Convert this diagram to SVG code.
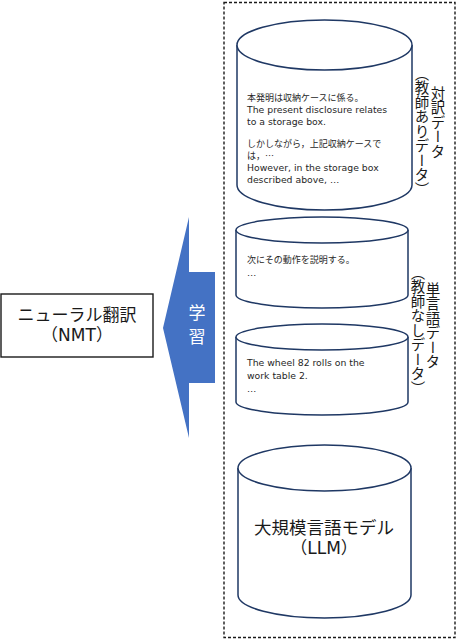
<svg xmlns="http://www.w3.org/2000/svg" width="458" height="640" viewBox="0 0 458 640">
<style>
.cyl{fill:#fff;stroke:#1f3864;stroke-width:1.5}
.jp{font-family:"Noto Sans CJK JP","DejaVu Sans",sans-serif;font-size:9px;fill:#262626}
.en{font-family:"DejaVu Sans","Noto Sans CJK JP",sans-serif;font-size:9.3px;fill:#262626}
.big{font-family:"DejaVu Sans","Noto Sans CJK JP",sans-serif;font-size:17px;fill:#1a1a1a;text-anchor:middle}
.vt{font-family:"Noto Sans CJK JP",sans-serif;font-size:14.5px;fill:#1a1a1a;writing-mode:vertical-rl}
</style>
<rect id="frame" x="224" y="2.5" width="231" height="635" fill="none" stroke="#1a1a1a" stroke-width="1.4" stroke-dasharray="3,2"/>
<g id="nmt">
<rect x="1" y="294" width="152" height="63" fill="#fff" stroke="#1a1a1a" stroke-width="1.4"/>
<text class="big" x="77" y="321">ニューラル翻訳</text>
<text class="big" x="77" y="341">（NMT）</text>
</g>
<g id="connectors">
<g id="learn-arrow">
<polygon points="163,328 189,217 189,272 215,272 215,383 189,383 189,438" fill="#4472c4"/>
<text class="big" x="197" y="319" style="fill:#fff">学</text>
<text class="big" x="197" y="343" style="fill:#fff">習</text>
</g>
</g>
<g id="parallel-data">
<path class="cyl" d="M237,45 V185 A87.5,25 0 0 0 412,185 V45"/>
<ellipse class="cyl" cx="324.5" cy="45" rx="87.5" ry="25"/>
<text class="jp" x="247" y="101">本発明は収納ケースに係る。</text>
<text class="en" x="247" y="113">The present disclosure relates</text>
<text class="en" x="247" y="125">to a storage box.</text>
<text class="jp" x="247" y="147">しかしながら，上記収納ケースで</text>
<text class="jp" x="247" y="159">は，…</text>
<text class="en" x="247" y="171">However, in the storage box</text>
<text class="en" x="247" y="183">described above, …</text>
<text class="vt" x="438" y="86">対訳データ</text>
<text class="vt" x="422" y="66">（教師ありデータ）</text>
</g>
<g id="mono-data-ja">
<path class="cyl" d="M236,230 V295 A86,13 0 0 0 408,295 V230"/>
<ellipse class="cyl" cx="322" cy="230" rx="86" ry="13"/>
<text class="jp" x="247" y="263">次にその動作を説明する。</text>
<text class="en" x="247" y="276">…</text>
</g>
<g id="mono-data-en">
<path class="cyl" d="M236,337 V402 A86,13 0 0 0 408,402 V337"/>
<ellipse class="cyl" cx="322" cy="337" rx="86" ry="13"/>
<text class="en" x="247" y="366">The wheel 82 rolls on the</text>
<text class="en" x="247" y="379">work table 2.</text>
<text class="en" x="247" y="392">…</text>
</g>
<g id="mono-label">
<text class="vt" x="433" y="282">単言語データ</text>
<text class="vt" x="418" y="265">（教師なしデータ）</text>
</g>
<g id="llm">
<path class="cyl" d="M238,468 V595 A86.5,23 0 0 0 411,595 V468"/>
<ellipse class="cyl" cx="324.5" cy="468" rx="86.5" ry="23"/>
<text class="big" x="324" y="534" style="font-size:17.5px">大規模言語モデル</text>
<text class="big" x="324" y="554">（LLM）</text>
</g>
</svg>
